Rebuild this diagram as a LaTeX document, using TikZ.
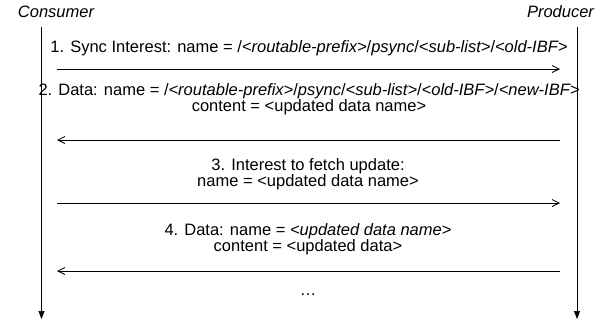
\documentclass[tikz,border=0pt]{standalone}
\usepackage{fontspec}
\setmainfont{Liberation Sans}
\usetikzlibrary{arrows.meta, positioning}

\begin{document}
\begin{tikzpicture}[
    x=1pt, y=-1pt,
    actor/.style={font=\fontsize{16.5}{18}\selectfont\itshape, inner sep=0pt, anchor=base},
    life/.style={-{Triangle[width=6pt, length=8pt]}, line width=0.7pt},
    msg/.style={-{Straight Barb[width=7pt, length=7pt]}, line width=0.8pt},
    msgtext/.style={font=\fontsize{16.5}{16}\selectfont, align=center, inner sep=0pt}
]
\useasboundingbox (0,0) rectangle (613,325);

% Lifelines
\node[actor] (consumer) at (56,17.5) {Consumer};
\node[actor] (producer) at (560.5,17.5) {Producer};
\coordinate (ctop) at (41.5,27);
\coordinate (cbot) at (41.5,319);
\coordinate (ptop) at (577,27);
\coordinate (pbot) at (577,319);
\draw[life] (ctop) -- (cbot);
\draw[life] (ptop) -- (pbot);

% Message end points
\foreach \n/\y in {1/69, 2/140, 3/203, 4/271} {
    \coordinate (c\n) at (57,\y);
    \coordinate (p\n) at (560,\y);
}

% Messages
\node[msgtext] (m1) at (309,48.5) {1. Sync Interest: name = /\textit{<routable-prefix>}/\textit{psync}/\textit{<sub-list>}/\textit{<old-IBF>}};
\draw[msg] (c1) -- (p1);
\node[msgtext] (m2) at (309,99) {2. Data: name = /\textit{<routable-prefix>}/\textit{psync}/\textit{<sub-list>}/\textit{<old-IBF>}/\textit{<new-IBF>}\\content = <updated data name>};
\draw[msg] (p2) -- (c2);
\node[msgtext] (m3) at (308,174) {3. Interest to fetch update:\\name = <updated data name>};
\draw[msg] (c3) -- (p3);
\node[msgtext] (m4) at (308,239.5) {4. Data: name = \textit{<updated data name}>\\content = <updated data>};
\draw[msg] (p4) -- (c4);
\node[msgtext, anchor=base] (more) at (308,295) {\dots};
\end{tikzpicture}
\end{document}
